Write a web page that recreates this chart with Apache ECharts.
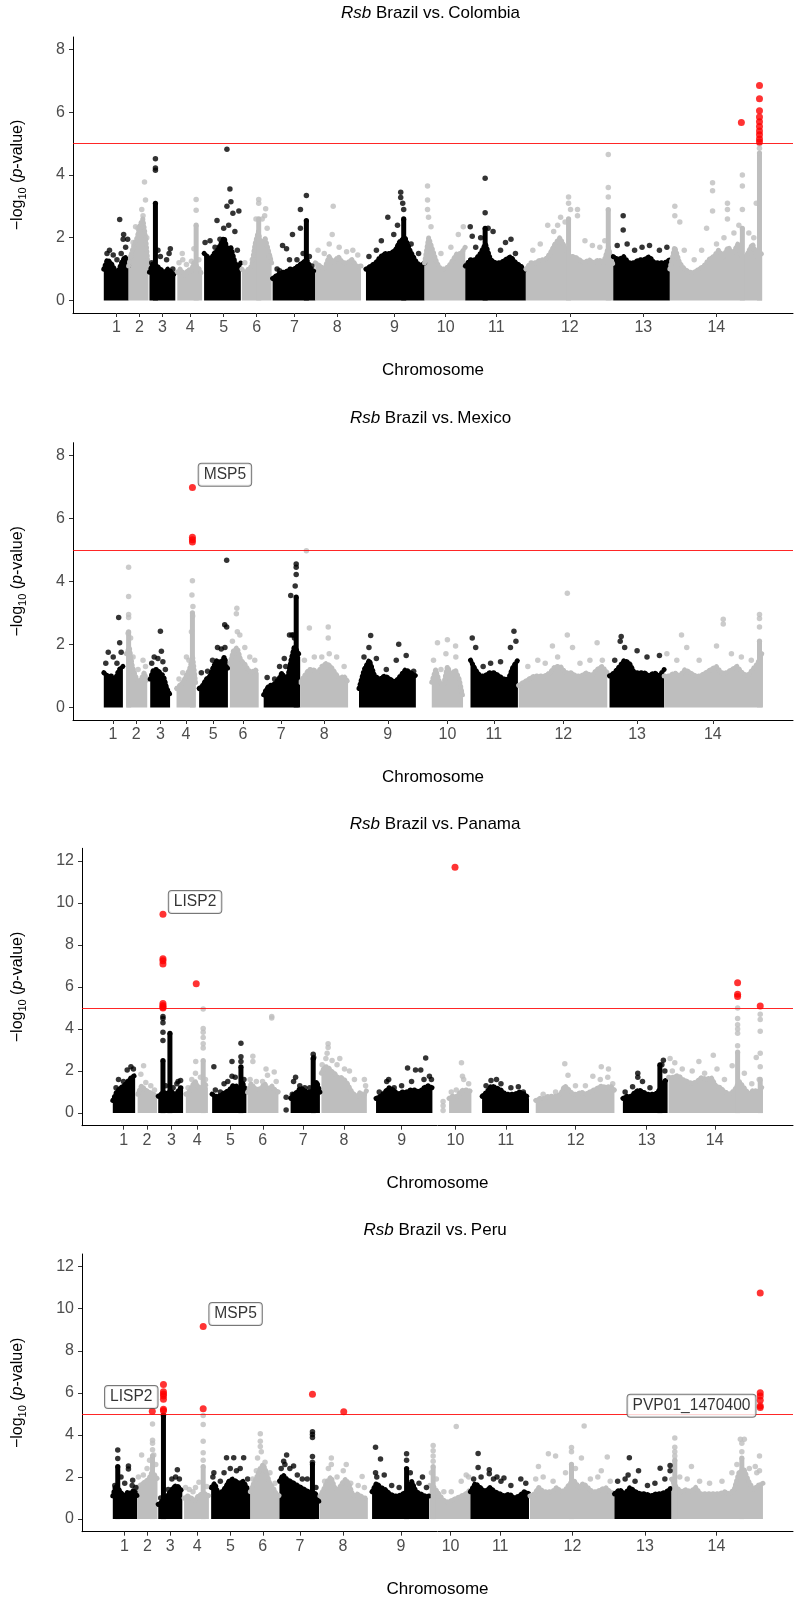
<!DOCTYPE html>
<html>
<head>
<meta charset="utf-8">
<title>Rsb Manhattan plots</title>
<script src="https://cdn.jsdelivr.net/npm/echarts@6/dist/echarts.min.js"></script>
<style>
  html, body { margin: 0; padding: 0; background: #fff; }
  #chart { width: 799px; height: 1599px; }
</style>
</head>
<body>
<div id="chart"></div>
<script>
// positions are Mb along the concatenated genome, values are -log10(p)
const chromNames = ['1', '2', '3', '4', '5', '6', '7', '8', '9', '10', '11', '12', '13', '14']
const threshold = 5

// Brazil vs. Colombia
const colStart = [-0.08, 0.92, 1.76, 2.88, 3.96, 5.48, 6.72, 8.44, 10.48, 12.84, 14.48, 16.92, 20.44, 22.72]
const colEnd = [0.92, 1.72, 2.8, 3.88, 5.44, 6.68, 8.44, 10.28, 12.84, 14.48, 16.92, 20.44, 22.72, 26.44]
const colTicks = [0.43, 1.36, 2.28, 3.4, 4.75, 6.08, 7.6, 9.32, 11.63, 13.69, 15.73, 18.69, 21.65, 24.59]
const colEnv = [
  [1.0, 1.3, 1.2, 1.0, 0.9, 1.2, 1.4, 1.1],
  [1.1, 1.5, 1.8, 2.0, 2.4, 2.6, 2.0, 1.0],
  [0.9, 1.2, 1.1, 1.0, 0.9, 1.0, 0.9, 0.8],
  [0.9, 1.0, 0.9, 0.8, 1.0, 0.9, 1.2, 1.1, 1.0, 0.8],
  [1.5, 1.4, 1.3, 1.5, 1.6, 1.8, 2.0, 1.6, 1.7, 1.3, 1.0, 1.2],
  [1.0, 0.9, 1.0, 1.1, 1.8, 2.2, 1.6, 2.0, 1.6, 1.2],
  [0.7, 0.8, 0.9, 0.9, 1.0, 1.0, 1.1, 1.2, 1.3, 1.0, 0.9],
  [1.2, 1.1, 1.0, 1.4, 1.2, 1.4, 1.2, 1.2, 1.3, 1.1, 1.1],
  [1.0, 1.1, 1.2, 1.4, 1.5, 1.5, 1.6, 1.9, 2.0, 1.6, 1.3, 1.1, 1.2],
  [1.2, 2.0, 1.6, 1.2, 1.0, 1.0, 1.1, 1.3, 1.5, 1.5, 1.7],
  [1.1, 1.3, 1.3, 1.5, 1.8, 1.3, 1.2, 1.2, 1.3, 1.4, 1.2, 1.1, 0.9],
  [1.0, 1.2, 1.2, 1.3, 1.3, 1.5, 1.8, 2.0, 1.7, 1.4, 1.4, 1.3, 1.2, 1.3, 1.2, 1.3, 1.2, 1.7, 1.1],
  [1.4, 1.3, 1.4, 1.2, 1.2, 1.3, 1.3, 1.4, 1.2, 1.2, 1.2, 1.3],
  [1.0, 1.7, 1.2, 1.0, 0.9, 0.9, 1.0, 1.1, 1.3, 1.4, 1.6, 1.4, 1.7, 1.5, 1.8, 1.3, 1.5, 1.8, 1.4, 1.5]
]
const colColumns = [[2.0, 3.1], [3.64, 2.4], [6.16, 2.6], [8.08, 2.55], [12.0, 2.6], [15.28, 2.3],
  [18.64, 2.6], [20.24, 2.9], [25.64, 2.3], [26.33, 4.7]]
const colDots = [
  [0.56, 2.58], [0.72, 2.1], [0.7, 1.95], [1.56, 3.78], [1.6, 3.2], [1.2, 2.35], [1.4, 2.35],
  [2.0, 4.52], [2.0, 4.22], [2.0, 4.15], [2.6, 1.65], [3.64, 3.22], [3.64, 2.88], [3.08, 1.5],
  [4.88, 4.82], [5.0, 3.55], [5.04, 3.15], [4.88, 3.0], [5.12, 2.78], [5.36, 2.85], [4.48, 2.55],
  [6.16, 3.22], [6.16, 3.1], [6.44, 2.92], [6.4, 2.7],
  [7.12, 1.75], [7.28, 1.65], [7.52, 2.1], [7.84, 2.9], [7.84, 2.3], [8.08, 3.35],
  [9.16, 3.0], [9.12, 2.1], [11.36, 2.65], [11.88, 3.45], [11.88, 3.28], [11.96, 3.1], [12.0, 2.9],
  [12.96, 3.65], [12.96, 3.2], [12.96, 2.9],
  [14.68, 2.35], [14.76, 2.05], [15.28, 3.9], [15.28, 2.8], [15.6, 2.2], [16.32, 1.95],
  [17.8, 2.4], [18.04, 2.2], [18.32, 2.65], [18.64, 3.3], [18.64, 3.1], [18.72, 2.9], [19.0, 2.9],
  [19.0, 2.7], [20.24, 4.65], [20.24, 3.6], [20.24, 3.3], [20.84, 2.7], [20.84, 2.25],
  [22.92, 3.0], [22.92, 2.7], [23.12, 2.5], [24.2, 2.3], [24.44, 3.75], [24.44, 3.5], [24.44, 2.85],
  [25.04, 3.1], [25.04, 2.9], [25.04, 2.6], [25.64, 4.0], [25.64, 3.65], [25.64, 2.9], [26.2, 3.1],
  [26.33, 4.99], [26.33, 4.85],
  [0.05, 1.5], [0.15, 1.6], [0.3, 1.45], [0.45, 1.3], [0.62, 1.5], [0.8, 1.7], [0.88, 1.95],
  [1.0, 1.4], [1.1, 1.85], [1.3, 2.3], [1.45, 2.9], [1.5, 2.7], [1.65, 2.0],
  [1.85, 1.2], [2.1, 1.6], [2.2, 1.4], [2.45, 1.3], [2.55, 1.5], [2.7, 1.0],
  [2.95, 1.2], [3.1, 1.3], [3.25, 1.15], [3.45, 1.25], [3.55, 1.65], [3.75, 1.3],
  [4.0, 1.85], [4.2, 1.9], [4.4, 1.7], [4.6, 1.95], [4.75, 2.3], [5.2, 2.2], [5.3, 1.6], [4.95, 2.4],
  [5.6, 1.2], [5.9, 1.3], [6.05, 2.6], [6.3, 2.6], [6.5, 2.3], [6.6, 1.4],
  [6.9, 1.0], [7.0, 0.95], [7.4, 1.3], [7.7, 1.3], [7.95, 1.5], [8.2, 1.4], [8.3, 1.1],
  [8.55, 1.6], [8.8, 1.5], [9.0, 1.8], [9.4, 1.7], [9.7, 1.55], [9.95, 1.6], [10.15, 1.45],
  [10.6, 1.4], [10.9, 1.6], [11.1, 1.9], [11.6, 2.1], [11.75, 2.4], [12.3, 1.8], [12.6, 1.5],
  [13.0, 2.65], [13.1, 2.35], [13.5, 1.5], [13.9, 1.7], [14.2, 2.1], [14.4, 2.35],
  [14.9, 1.7], [15.1, 2.0], [15.4, 2.3], [15.9, 1.6], [16.1, 1.85], [16.5, 1.5],
  [17.2, 1.6], [17.5, 1.8], [18.2, 2.4], [18.5, 2.5], [19.3, 1.9], [19.6, 1.75], [19.9, 1.7], [20.1, 1.9],
  [20.6, 1.75], [21.0, 1.8], [21.3, 1.6], [21.6, 1.7], [21.9, 1.75], [22.3, 1.6], [22.6, 1.7],
  [23.3, 1.6], [23.7, 1.3], [24.0, 1.6], [24.6, 1.8], [24.9, 2.0], [25.3, 2.15], [25.5, 2.4], [25.9, 2.15], [26.1, 2.0]
]
const colRed = [[25.6, 5.67], [26.33, 6.85], [26.33, 6.43], [26.33, 6.05], [26.33, 5.85], [26.33, 5.7],
  [26.33, 5.55], [26.33, 5.4], [26.33, 5.28], [26.33, 5.15], [26.33, 5.05]]
const colLabels = []

// Brazil vs. Mexico
const mexStart = [-0.08, 0.83, 1.79, 2.85, 3.76, 5.0, 6.36, 7.83, 10.2, 13.13, 14.69, 16.63, 20.29, 22.49]
const mexEnd = [0.69, 1.67, 2.59, 3.63, 4.92, 6.16, 7.83, 9.76, 12.49, 14.39, 16.6, 20.2, 22.49, 26.47]
const mexTicks = [0.29, 1.23, 2.2, 3.23, 4.33, 5.53, 7.07, 8.8, 11.36, 13.76, 15.63, 18.43, 21.4, 24.45]
const mexEnv = [
  [1.1, 1.0, 1.0, 0.9, 1.2, 1.3],
  [1.7, 1.9, 1.3, 1.0, 0.8, 0.9, 1.1, 0.8],
  [0.9, 1.2, 1.2, 1.1, 1.0, 0.6, 0.4],
  [0.6, 0.7, 0.8, 1.0, 1.2, 1.6, 0.7],
  [0.6, 0.7, 0.9, 1.0, 1.3, 1.5, 1.4, 1.6, 1.2],
  [1.4, 1.8, 1.9, 1.5, 1.4, 1.2, 1.1, 1.2, 1.1],
  [0.4, 0.6, 0.7, 0.7, 0.8, 0.9, 1.1, 0.9, 1.0, 1.5, 1.9, 1.8, 1.6],
  [0.8, 1.0, 1.2, 1.2, 1.1, 1.3, 1.4, 1.3, 1.1, 0.9, 1.0, 0.8],
  [0.6, 1.2, 1.5, 1.0, 0.9, 1.0, 0.9, 0.8, 1.0, 1.2, 1.1, 1.0],
  [0.8, 1.2, 0.8, 0.7, 1.3, 1.0, 1.2, 0.9, 0.3],
  [1.5, 1.2, 1.0, 1.0, 1.1, 1.1, 1.0, 0.9, 0.9, 1.3, 1.5],
  [0.7, 0.8, 0.9, 1.0, 1.0, 1.0, 1.1, 1.3, 1.3, 1.1, 1.1, 1.0, 1.0, 1.1, 1.0, 1.2, 1.3, 1.1],
  [1.0, 1.1, 1.3, 1.5, 1.4, 1.1, 1.1, 1.1, 1.0, 1.1, 1.0, 1.2],
  [1.0, 1.0, 1.1, 1.0, 1.2, 1.1, 1.0, 1.0, 1.1, 1.2, 1.3, 1.1, 1.1, 1.2, 1.3, 1.1, 1.0, 1.2, 1.4, 1.8]
]
const mexColumns = [[0.92, 2.4], [3.49, 3.0], [7.67, 3.5], [26.33, 2.1]]
const mexDots = [
  [0.52, 2.85], [0.56, 2.05], [0.92, 4.45], [0.92, 3.52], [0.92, 2.95], [0.92, 2.85],
  [2.2, 2.42], [2.24, 1.78], [3.49, 4.02], [3.47, 3.57], [3.51, 3.2], [3.5, 2.9],
  [4.87, 4.67], [4.79, 2.62], [4.87, 2.55], [5.28, 3.15], [5.26, 2.97],
  [7.67, 4.55], [7.67, 4.45], [7.67, 4.22], [7.63, 3.85], [7.45, 3.55], [7.19, 1.55], [7.55, 2.3], [7.6, 2.2],
  [8.08, 4.97], [8.2, 2.52], [8.96, 2.55], [8.96, 2.2], [10.67, 2.28], [11.8, 2.0],
  [13.36, 2.05], [13.76, 2.15], [14.09, 1.95], [14.76, 2.2], [16.44, 2.42], [16.52, 2.1],
  [18.59, 3.62], [18.59, 2.3], [17.99, 1.95], [19.79, 2.05], [20.76, 2.25], [20.72, 2.1],
  [23.19, 2.3], [24.87, 2.8], [24.87, 2.65], [26.33, 2.95], [26.33, 2.82], [26.33, 2.55],
  [0.0, 1.4], [0.1, 1.75], [0.3, 1.6], [0.45, 1.4], [0.62, 1.75],
  [0.9, 2.35], [1.0, 2.2], [1.1, 1.6], [1.3, 1.2], [1.5, 1.5], [1.6, 1.3],
  [1.85, 1.4], [1.95, 1.6], [2.1, 1.55], [2.3, 1.45], [2.4, 1.2],
  [2.95, 0.9], [3.1, 1.1], [3.25, 1.6], [3.35, 1.5], [3.45, 2.4],
  [3.85, 1.1], [4.1, 1.15], [4.3, 1.5], [4.5, 1.9], [4.65, 1.85], [4.8, 1.9],
  [5.1, 2.1], [5.3, 2.4], [5.4, 2.3], [5.6, 1.9], [5.8, 1.6], [6.0, 1.5],
  [6.5, 0.95], [6.8, 0.9], [7.0, 1.3], [7.25, 1.3], [7.4, 2.3], [7.5, 2.3],
  [8.0, 1.5], [8.4, 1.6], [8.7, 1.6], [9.0, 1.7], [9.3, 1.6], [9.6, 1.3],
  [10.4, 1.6], [10.6, 1.9], [10.9, 1.55], [11.3, 1.2], [11.7, 1.5], [12.1, 1.65], [12.4, 1.15],
  [13.2, 1.5], [13.5, 1.2], [13.7, 1.7], [14.1, 1.6],
  [14.9, 1.9], [15.2, 1.3], [15.5, 1.4], [15.9, 1.45], [16.3, 1.9],
  [17.0, 1.3], [17.4, 1.5], [17.7, 1.4], [18.2, 1.6], [18.8, 1.9], [19.1, 1.4], [19.5, 1.5], [20.0, 1.5],
  [20.5, 1.5], [20.9, 1.9], [21.4, 1.8], [21.8, 1.6], [22.3, 1.65],
  [22.6, 1.7], [23.0, 1.5], [23.4, 1.9], [23.9, 1.5], [24.6, 1.95], [25.2, 1.7], [25.6, 1.6], [26.0, 1.5]
]
const mexRed = [[3.49, 6.98], [3.49, 5.4], [3.49, 5.32], [3.49, 5.25]]
const mexLabels = [['MSP5', 3.49, 6.98]]

// Brazil vs. Panama
const panStart = [-0.03, 0.97, 1.8, 2.91, 3.97, 5.4, 7.13, 8.37, 10.57, 13.51, 14.84, 17.0, 20.51, 22.35]
const panEnd = [0.87, 1.75, 2.8, 3.8, 5.35, 6.64, 8.31, 10.2, 12.84, 14.41, 16.73, 20.17, 22.31, 26.15]
const panTicks = [0.41, 1.35, 2.33, 3.37, 4.71, 6.01, 7.64, 9.28, 11.6, 13.77, 15.8, 18.61, 21.47, 24.21]
const panEnv = [
  [0.6, 1.0, 1.2, 1.3, 1.5, 1.7, 1.8],
  [0.9, 1.3, 1.1, 1.0, 0.9, 0.8],
  [0.8, 0.9, 1.0, 0.9, 1.0, 1.0, 0.9, 1.0, 1.2, 1.2],
  [0.9, 1.0, 1.3, 1.5, 1.2, 1.2, 1.4, 1.2],
  [0.9, 0.8, 0.8, 0.9, 1.0, 1.1, 1.3, 1.3, 1.1, 1.4, 1.0],
  [1.0, 1.4, 1.2, 1.1, 1.2, 1.4, 1.1, 1.3, 1.1, 1.0],
  [0.7, 0.9, 1.0, 1.2, 1.1, 1.0, 1.0, 1.1, 1.5, 1.0],
  [1.9, 2.2, 2.2, 2.0, 1.9, 1.7, 1.7, 1.6, 1.4, 1.1, 0.9, 0.8, 1.0, 0.8, 1.1],
  [0.7, 0.8, 1.0, 1.2, 1.1, 0.9, 1.0, 1.0, 1.1, 1.1, 1.0, 1.2, 1.3, 1.2],
  [0.7, 0.8, 0.8, 0.8, 1.0, 1.1, 1.1, 1.1, 1.0],
  [0.8, 1.0, 1.3, 1.2, 1.1, 0.9, 0.9, 0.9, 1.0, 0.9, 0.7],
  [0.6, 0.7, 0.7, 0.8, 0.8, 0.8, 0.9, 1.3, 1.1, 0.9, 0.9, 1.0, 0.9, 1.0, 1.1, 1.2, 1.3, 1.2, 1.3, 1.1],
  [0.7, 0.8, 0.8, 1.0, 1.1, 1.0, 0.9, 0.9, 0.9, 1.1, 1.5, 1.6],
  [1.7, 1.7, 1.8, 1.6, 1.5, 1.4, 1.5, 1.7, 1.6, 1.7, 1.3, 1.2, 1.0, 0.9, 1.1, 1.5, 1.2, 0.9, 1.1, 1.0, 1.3]
]
const panColumns = [[1.99, 2.5], [2.27, 3.8], [3.61, 2.5], [5.13, 2.2], [8.04, 2.6], [22.0, 2.3],
  [25.13, 2.9], [26.04, 1.6]]
const panDots = [
  [1.21, 2.25], [1.99, 4.6], [1.99, 4.5], [1.99, 4.3], [1.99, 3.85], [1.99, 3.45],
  [3.31, 2.45], [3.61, 4.95], [3.61, 4.02], [3.61, 3.85], [3.61, 3.6], [3.61, 3.3], [3.61, 3.1],
  [4.04, 2.2], [4.77, 2.45], [4.77, 1.75], [5.13, 3.32], [5.13, 2.68], [5.13, 2.45],
  [5.61, 2.7], [5.61, 2.45], [6.14, 2.1], [6.37, 4.6], [6.37, 4.52], [6.47, 1.95],
  [6.95, 0.75], [6.95, 0.15], [7.33, 1.7], [7.25, 1.5], [8.04, 2.8], [8.06, 2.65],
  [8.64, 3.3], [8.64, 3.12], [8.6, 2.85], [9.11, 2.6],
  [11.08, 1.6], [11.84, 2.14], [12.16, 2.05], [12.37, 2.05], [12.57, 2.62], [12.72, 1.75],
  [13.27, 0.55], [13.27, 0.35], [13.27, 0.12], [14.01, 2.4], [14.05, 1.75], [15.42, 1.6],
  [18.17, 2.35], [19.64, 2.2], [19.93, 2.1], [21.11, 1.9], [21.11, 1.7], [22.14, 2.52], [22.08, 2.3],
  [22.41, 2.6], [22.6, 2.4], [23.57, 2.45], [24.15, 2.75], [24.91, 2.25],
  [25.13, 5.0], [25.13, 4.5], [25.13, 4.2], [25.13, 4.0], [25.13, 3.8], [25.13, 3.2],
  [25.88, 2.65], [26.04, 4.7], [26.04, 4.45], [26.04, 3.9], [26.04, 2.85], [26.04, 2.2],
  [0.1, 1.2], [0.2, 1.6], [0.4, 1.5], [0.55, 2.05], [0.7, 2.2], [0.8, 2.1],
  [1.1, 1.85], [1.3, 1.45], [1.5, 1.3], [1.65, 1.1],
  [2.1, 1.3], [2.4, 1.2], [2.55, 1.4], [2.7, 1.55], [2.6, 1.5],
  [3.0, 1.2], [3.15, 1.6], [3.3, 1.9], [3.5, 1.7], [3.7, 1.6],
  [4.1, 1.1], [4.3, 1.0], [4.45, 1.4], [4.6, 1.5], [4.9, 1.7], [5.25, 1.6],
  [5.5, 1.6], [5.75, 1.5], [6.0, 1.5], [6.2, 1.8], [6.55, 1.5],
  [7.2, 0.9], [7.5, 1.3], [7.7, 1.2], [7.9, 1.2], [8.2, 1.3],
  [8.4, 2.3], [8.55, 2.6], [8.8, 2.5], [9.0, 2.3], [9.3, 2.1], [9.5, 2.0], [9.7, 1.6], [10.1, 1.6], [10.15, 1.3],
  [10.7, 1.0], [11.0, 1.5], [11.3, 1.2], [11.6, 1.3], [12.0, 1.5], [12.5, 1.6], [12.8, 1.6],
  [13.6, 1.0], [13.8, 1.1], [14.1, 1.6], [14.3, 1.4],
  [15.0, 1.3], [15.2, 1.55], [15.6, 1.4], [16.0, 1.2], [16.3, 1.25], [16.5, 1.0],
  [17.3, 0.9], [17.8, 1.0], [18.3, 1.8], [18.6, 1.3], [19.0, 1.3], [19.3, 1.75], [19.6, 1.6], [19.9, 1.7], [20.1, 1.4],
  [20.6, 1.0], [20.9, 1.25], [21.3, 1.5], [21.6, 1.2], [22.2, 2.0],
  [22.5, 2.0], [22.9, 2.1], [23.3, 2.0], [23.8, 1.9], [24.3, 2.1], [24.6, 1.6], [25.4, 1.9], [25.7, 1.4], [26.0, 1.6]
]
const panRed = [[1.99, 9.46], [1.99, 7.35], [1.99, 7.25], [1.99, 7.1], [1.99, 5.22], [1.99, 5.12],
  [1.99, 5.05], [1.99, 5.0], [3.33, 6.15], [13.75, 11.7], [25.13, 6.2], [25.13, 5.65], [25.13, 5.55], [26.04, 5.1]]
const panLabels = [['LISP2', 1.99, 9.46]]

// Brazil vs. Peru
const perStart = [-0.03, 0.95, 1.8, 2.84, 3.93, 5.51, 6.68, 8.31, 10.41, 12.73, 14.37, 16.77, 20.17, 22.47]
const perEnd = [0.95, 1.77, 2.77, 3.84, 5.51, 6.68, 8.28, 10.24, 12.71, 14.37, 16.73, 20.17, 22.47, 26.15]
const perTicks = [0.44, 1.37, 2.28, 3.37, 4.71, 6.01, 7.51, 9.24, 11.57, 13.57, 15.57, 18.48, 21.4, 24.28]
const perEnv = [
  [1.1, 1.6, 1.4, 1.2, 1.1, 1.3, 1.2, 1.4, 1.1],
  [1.5, 1.6, 1.7, 1.8, 1.9, 2.2, 2.1, 1.9],
  [0.7, 0.8, 1.0, 1.1, 1.3, 1.5, 1.6, 1.5, 1.3],
  [1.0, 1.1, 1.0, 0.9, 1.1, 1.2, 1.2, 1.1],
  [1.5, 1.7, 1.2, 1.3, 1.5, 1.8, 1.9, 1.8, 1.7, 1.8, 1.5, 1.3],
  [1.3, 1.7, 2.0, 2.4, 2.6, 2.2, 1.7, 1.5, 1.2, 1.1],
  [1.8, 2.1, 1.9, 1.8, 1.7, 1.6, 1.5, 1.4, 1.3, 1.3, 1.2, 0.8],
  [1.1, 1.4, 1.8, 2.0, 1.5, 1.4, 1.7, 1.9, 1.6, 1.1, 1.2, 1.1, 1.0, 1.0],
  [1.3, 1.7, 1.5, 1.4, 1.2, 1.1, 1.1, 1.2, 1.3, 1.8, 1.3, 1.2, 1.1, 1.1],
  [1.6, 1.5, 1.2, 0.9, 0.8, 0.9, 1.0, 1.1, 1.2, 1.4],
  [1.3, 1.7, 1.5, 1.3, 1.5, 1.3, 1.2, 1.1, 1.2, 1.0, 1.1, 1.3, 1.2],
  [1.1, 1.2, 1.5, 1.3, 1.3, 1.3, 1.5, 1.3, 1.4, 1.7, 1.8, 1.5, 1.7, 1.5, 1.3, 1.3, 1.4, 1.5, 1.3, 1.2],
  [1.2, 1.4, 1.2, 1.5, 1.3, 1.2, 1.2, 1.1, 1.2, 1.2, 1.3, 1.5],
  [1.9, 1.5, 1.3, 1.4, 1.3, 1.5, 1.2, 1.2, 1.2, 1.2, 1.2, 1.3, 1.2, 1.4, 2.2, 2.4, 1.8, 1.4, 1.6, 1.7]
]
const perColumns = [[0.17, 2.5], [1.57, 3.0], [2.01, 4.9], [3.61, 2.5], [8.01, 2.6], [11.8, 2.4],
  [12.87, 2.5], [18.44, 2.6], [22.6, 2.8], [25.3, 2.9]]
const perDots = [
  [0.17, 3.28], [0.17, 2.88], [0.6, 2.52], [0.6, 2.38], [0.77, 1.85],
  [1.13, 3.05], [1.57, 4.52], [1.57, 3.75], [1.57, 3.6], [1.57, 3.3], [1.62, 3.05],
  [2.57, 2.35], [2.01, 4.95], [3.61, 4.92], [3.61, 4.5], [3.61, 3.7], [3.61, 3.15], [3.61, 2.8], [3.44, 1.75],
  [4.55, 2.92], [4.84, 2.92], [5.24, 2.92], [4.04, 2.2],
  [5.91, 4.05], [5.91, 3.7], [5.91, 3.45], [5.95, 3.2], [5.8, 2.9],
  [6.97, 3.05], [6.85, 2.75], [7.25, 2.52], [8.01, 4.15], [8.01, 4.02], [8.01, 3.88], [8.01, 2.98], [8.01, 2.7],
  [8.77, 2.9], [8.77, 2.6], [9.37, 2.6], [10.01, 2.02],
  [10.55, 3.42], [10.55, 2.2], [10.75, 2.85], [11.8, 3.1], [11.8, 2.8], [12.44, 2.0],
  [12.87, 3.5], [12.87, 3.25], [12.87, 3.0], [12.87, 2.75], [13.8, 4.4], [14.2, 2.1],
  [14.68, 3.12], [14.68, 2.45], [15.13, 2.35], [15.13, 2.15], [15.44, 2.0], [15.72, 1.95],
  [17.11, 2.5], [17.51, 3.1], [17.8, 3.0], [18.44, 3.4], [18.44, 3.2], [18.95, 4.42], [18.84, 2.9],
  [19.88, 2.95], [19.64, 2.3],
  [20.77, 2.92], [20.72, 2.1], [21.14, 2.3], [22.01, 2.42], [22.41, 2.55], [22.41, 2.3],
  [22.6, 3.85], [22.6, 3.42], [22.6, 3.2], [22.6, 3.0], [23.27, 2.5], [25.24, 3.8], [25.4, 3.8],
  [25.3, 3.6], [25.3, 3.2], [25.84, 2.5], [26.01, 3.0], [26.01, 2.3],
  [0.05, 1.6], [0.3, 2.0], [0.45, 1.7], [0.75, 1.6], [0.9, 1.5],
  [1.0, 2.0], [1.2, 2.1], [1.35, 2.4], [1.45, 2.8], [1.7, 2.6],
  [1.9, 1.0], [2.2, 1.4], [2.35, 1.9], [2.5, 2.0], [2.65, 1.9],
  [2.9, 1.5], [3.05, 1.4], [3.2, 1.3], [3.3, 1.5], [3.75, 1.55],
  [4.0, 2.0], [4.3, 1.8], [4.45, 2.2], [4.7, 2.4], [4.95, 2.3], [5.1, 2.4], [5.4, 1.9],
  [5.6, 1.9], [5.75, 2.3], [6.1, 2.7], [6.3, 2.2], [6.5, 1.7],
  [6.75, 2.4], [6.9, 2.6], [7.1, 2.4], [7.4, 2.1], [7.6, 1.9], [7.8, 1.9], [8.15, 1.5],
  [8.5, 1.8], [8.65, 2.4], [9.0, 2.0], [9.25, 2.3], [9.55, 1.7], [9.85, 1.6], [10.1, 1.5],
  [10.6, 2.0], [10.9, 2.1], [11.2, 1.6], [11.5, 1.5], [11.95, 2.2], [12.3, 1.7], [12.6, 1.5],
  [12.8, 2.2], [13.0, 1.9], [13.3, 1.3], [13.6, 1.3], [14.0, 1.8], [14.3, 2.0],
  [14.5, 1.9], [14.8, 2.0], [15.3, 1.9], [15.6, 1.8], [16.0, 1.6], [16.4, 1.9], [16.6, 1.7],
  [17.0, 1.9], [17.3, 2.0], [17.7, 1.8], [18.2, 2.2], [18.6, 2.4], [19.2, 1.9], [19.5, 2.0], [20.0, 1.8],
  [20.3, 1.8], [20.6, 1.9], [21.0, 1.8], [21.5, 1.6], [21.8, 1.7], [22.2, 1.9],
  [22.8, 2.0], [23.1, 1.9], [23.6, 1.8], [24.0, 1.7], [24.5, 1.8], [24.9, 2.2], [25.1, 2.6], [25.6, 2.4], [25.9, 2.2]
]
const perRed = [[1.56, 5.13], [2.01, 6.4], [2.01, 6.05], [2.01, 5.95], [2.01, 5.85], [2.01, 5.7],
  [2.01, 5.22], [2.01, 5.15], [3.61, 9.15], [3.61, 5.25], [8.01, 5.93], [9.27, 5.1],
  [26.04, 10.75], [26.04, 6.0], [26.04, 5.85], [26.04, 5.65], [26.04, 5.38], [26.04, 5.3]]
const perLabels = [['LISP2', 1.56, 5.13], ['MSP5', 3.61, 9.15], ['PVP01_1470400', 26.04, 5.3]]

// ---- layout ----
const FONT = "'Liberation Sans', Arial, sans-serif"
const BLACK = '#000000'
const GREY = '#bebebe'
const RED = '#ff0000'

const panels = [
  { key: 'col', title: 'Colombia', start: colStart, end: colEnd, ticks: colTicks, env: colEnv,
    columns: colColumns, dots: colDots, red: colRed, labels: colLabels,
    grid: { left: 68, top: 37, width: 725, height: 276 }, xr: [-1.32, 27.68], yr: [-0.4, 8.4], yTicks: [0, 2, 4, 6, 8], nameGap: 45 },
  { key: 'mex', title: 'Mexico', start: mexStart, end: mexEnd, ticks: mexTicks, env: mexEnv,
    columns: mexColumns, dots: mexDots, red: mexRed, labels: mexLabels,
    grid: { left: 68, top: 442.7, width: 725, height: 277.3 }, xr: [-1.32, 27.68], yr: [-0.4, 8.4], yTicks: [0, 2, 4, 6, 8], nameGap: 45 },
  { key: 'pan', title: 'Panama', start: panStart, end: panEnd, ticks: panTicks, env: panEnv,
    columns: panColumns, dots: panDots, red: panRed, labels: panLabels,
    grid: { left: 77.3, top: 848.3, width: 715.7, height: 277.4 }, xr: [-1.27, 27.36], yr: [-0.6, 12.6], yTicks: [0, 2, 4, 6, 8, 10, 12], nameGap: 54 },
  { key: 'per', title: 'Peru', start: perStart, end: perEnd, ticks: perTicks, env: perEnv,
    columns: perColumns, dots: perDots, red: perRed, labels: perLabels,
    grid: { left: 77.3, top: 1254, width: 715.7, height: 277.7 }, xr: [-1.27, 27.36], yr: [-0.6, 12.6], yTicks: [0, 2, 4, 6, 8, 10, 12], nameGap: 54 }
]

// where each gene label box sits relative to its point (px)
const labelOffset = {
  'mex:MSP5': [32.5, -12.6],
  'pan:LISP2': [32.1, -12.2],
  'per:MSP5': [32.4, -12.5],
  'per:LISP2': [-21, -14.2],
  'per:PVP01_1470400': [-68.7, -1.8]
}

function chromOf(x, starts, ends) {
  let best = 0
  let bestD = Infinity
  for (let i = 0; i < starts.length; i++) {
    const d = x < starts[i] ? starts[i] - x : x > ends[i] ? x - ends[i] : 0
    if (d < bestD) {
      bestD = d
      best = i
    }
  }
  return best
}
const colorOf = (i) => (i % 2 === 0 ? BLACK : GREY)

const grids = []
const xAxes = []
const yAxes = []
const titles = []
const series = []

panels.forEach((p, gi) => {
  grids.push(p.grid)
  titles.push({
    text: '{i|Rsb} Brazil vs.\u2009' + p.title,
    left: p.grid.left + p.grid.width / 2,
    textAlign: 'center',
    top: p.grid.top - 34,
    padding: 0,
    textStyle: {
      fontFamily: FONT, fontSize: 17, fontWeight: 'normal', color: '#000', lineHeight: 20,
      rich: { i: { fontFamily: FONT, fontSize: 17, fontStyle: 'italic', color: '#000', lineHeight: 20 } }
    }
  })
  xAxes.push({
    type: 'value', gridIndex: gi, min: p.xr[0], max: p.xr[1],
    name: 'Chromosome', nameLocation: 'middle', nameGap: 49,
    nameTextStyle: { fontFamily: FONT, fontSize: 17, color: '#000' },
    axisLine: { onZero: false, lineStyle: { color: '#000', width: 1 } },
    axisTick: { customValues: p.ticks, length: 4, lineStyle: { color: '#333' } },
    axisLabel: {
      customValues: p.ticks, margin: 7, fontFamily: FONT, fontSize: 16, color: '#4d4d4d',
      formatter: (v) => {
        let k = 0
        p.ticks.forEach((t, i) => { if (Math.abs(t - v) < Math.abs(p.ticks[k] - v)) k = i })
        return chromNames[k]
      }
    },
    splitLine: { show: false }
  })
  yAxes.push({
    type: 'value', gridIndex: gi, min: p.yr[0], max: p.yr[1],
    name: '\u2212log{sub|10} ({i|p}-value)', nameLocation: 'middle', nameGap: p.nameGap, nameRotate: 90,
    nameTextStyle: {
      fontFamily: FONT, fontSize: 16, color: '#000', lineHeight: 20,
      rich: {
        sub: { fontFamily: FONT, fontSize: 11, color: '#000', verticalAlign: 'bottom', lineHeight: 20 },
        i: { fontFamily: FONT, fontSize: 16, fontStyle: 'italic', color: '#000', lineHeight: 20 }
      }
    },
    axisLine: { show: true, onZero: false, lineStyle: { color: '#000', width: 1 } },
    axisTick: { show: true, customValues: p.yTicks, length: 4, lineStyle: { color: '#333' } },
    axisLabel: { customValues: p.yTicks, margin: 8, fontFamily: FONT, fontSize: 16, color: '#4d4d4d' },
    splitLine: { show: false }
  })

  // dense bulk of each chromosome; the dotted edge gives it a point-cloud rim
  p.env.forEach((vals, c) => {
    const s = p.start[c]
    const step = (p.end[c] - s) / (vals.length - 1)
    const color = colorOf(c)
    series.push({
      type: 'line', xAxisIndex: gi, yAxisIndex: gi, z: 1, silent: true,
      data: vals.map((v, k) => [s + k * step, v]),
      symbol: 'none',
      lineStyle: { color, width: 5, type: [0.5, 3.6], cap: 'round', join: 'round' },
      areaStyle: { color, opacity: 1 }
    })
  })

  // tall stacks of points at one locus
  ;[BLACK, GREY].forEach((color) => {
    series.push({
      type: 'custom', xAxisIndex: gi, yAxisIndex: gi, z: 2, silent: true,
      data: p.columns.filter((d) => colorOf(chromOf(d[0], p.start, p.end)) === color),
      encode: { x: 0, y: 1 },
      renderItem: (params, api) => {
        const a = api.coord([api.value(0), 0])
        const b = api.coord([api.value(0), api.value(1)])
        return {
          type: 'group',
          children: [
            { type: 'line', shape: { x1: a[0], y1: a[1], x2: b[0], y2: b[1] }, style: { stroke: color, lineWidth: 5 } },
            { type: 'circle', shape: { cx: b[0], cy: b[1], r: 2.6 }, style: { fill: color } }
          ]
        }
      }
    })
    series.push({
      type: 'scatter', xAxisIndex: gi, yAxisIndex: gi, z: 3, silent: true,
      symbolSize: 5.5,
      itemStyle: { color },
      data: p.dots.filter((d) => colorOf(chromOf(d[0], p.start, p.end)) === color)
    })
  })

  series.push({
    type: 'scatter', xAxisIndex: gi, yAxisIndex: gi, z: 5, silent: true,
    symbolSize: 7,
    itemStyle: { color: RED },
    data: p.red,
    markLine: {
      silent: true, symbol: 'none', z: 4,
      label: { show: false },
      lineStyle: { color: RED, width: 1.1, type: 'solid', opacity: 0.85 },
      data: [{ yAxis: threshold }]
    }
  })

  if (p.labels.length) {
    series.push({
      type: 'scatter', xAxisIndex: gi, yAxisIndex: gi, z: 6, silent: true,
      symbolSize: 0,
      data: p.labels.map((l) => ({
        name: l[0],
        value: [l[1], l[2]],
        label: { offset: labelOffset[p.key + ':' + l[0]] }
      })),
      label: {
        show: true, position: 'inside', formatter: '{b}',
        fontFamily: FONT, fontSize: 15.6, lineHeight: 16, color: '#000',
        backgroundColor: '#fff', borderColor: '#555', borderWidth: 1, borderRadius: 3,
        padding: [3, 5]
      }
    })
  }
})

const chart = echarts.init(document.getElementById('chart'), null, { renderer: 'canvas' })
chart.setOption({
  animation: false,
  backgroundColor: '#fff',
  title: titles,
  grid: grids,
  xAxis: xAxes,
  yAxis: yAxes,
  series
})
</script>
</body>
</html>
